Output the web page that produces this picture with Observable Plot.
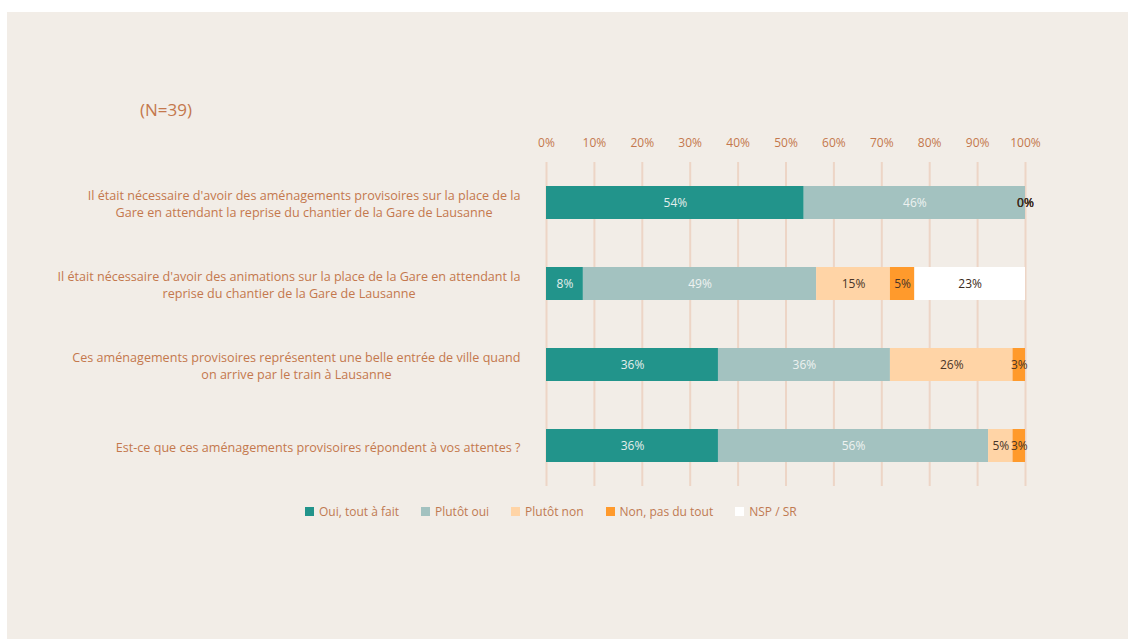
<!DOCTYPE html>
<html>
<head>
<meta charset="utf-8">
<script src="https://cdn.jsdelivr.net/npm/d3@7"></script>
<script src="https://cdn.jsdelivr.net/npm/@observablehq/plot@0.6"></script>
<style>
  html, body { margin: 0; padding: 0; background: #ffffff; }
  body { width: 1128px; height: 639px; position: relative; overflow: hidden; font-family: "Open Sans", sans-serif; }
  #panel { position: absolute; left: 7px; top: 12px; right: 0; bottom: 0; background: #F2EDE7; }
  #title { position: absolute; left: 140px; top: 98px; font-size: 17px; color: #C4784D; }
  #chart { position: absolute; left: 0; top: 0; }
  #legend { position: absolute; left: 305px; top: 503px; display: flex; align-items: center; font-size: 12px; color: #C07A52; white-space: nowrap; }
  .item { display: flex; align-items: center; margin-right: 22px; }
  .sw { width: 9px; height: 9px; margin-right: 5px; }
</style>
</head>
<body>
<div id="panel"></div>
<div id="title">(N=39)</div>
<div id="chart"></div>
<div id="legend"></div>
<script>
// ---- data ----
const questions = [
  "Il était nécessaire d'avoir des aménagements provisoires sur la place de la\nGare en attendant la reprise du chantier de la Gare de Lausanne",
  "Il était nécessaire d'avoir des animations sur la place de la Gare en attendant la\nreprise du chantier de la Gare de Lausanne",
  "Ces aménagements provisoires représentent une belle entrée de ville quand\non arrive par le train à Lausanne",
  "Est-ce que ces aménagements provisoires répondent à vos attentes ?"
];
const categories = ["Oui, tout à fait", "Plutôt oui", "Plutôt non", "Non, pas du tout", "NSP / SR"];
const ouiToutAFait = [53.8, 7.7, 35.9, 35.9];
const plutotOui    = [46.2, 48.7, 35.9, 56.4];
const plutotNon    = [0, 15.4, 25.6, 5.1];
const nonPasDuTout = [0, 5.1, 2.6, 2.6];
const nspSr        = [0, 23.1, 0, 0];
const zeroLabelShown = [true, false, false, false];
const xTicks = [0, 10, 20, 30, 40, 50, 60, 70, 80, 90, 100];

// ---- styles ----
const colors = ["#22948B", "#A3C2C0", "#FFD4A6", "#FF9A2C", "#FFFFFF"];
const labelColors = ["#E4EEEC", "#EEF2F1", "#4A3528", "#4A3528", "#3A2A20"];
const textColor = "#C4784D";
const yLabelSize = 12.6;

const series = [ouiToutAFait, plutotOui, plutotNon, nonPasDuTout, nspSr];
const rows = [];
questions.forEach((q, i) => {
  categories.forEach((c, j) => {
    rows.push({question: q, qi: i, cat: c, ci: j, value: series[j][i]});
  });
});

// measure label widths for centered multi-line labels, right-aligned block
const canvas = document.createElement("canvas");
const ctx = canvas.getContext("2d");
ctx.font = yLabelSize + "px 'Open Sans'";
const rightEdge = 520;
const marginLeft = 546;
const labelDx = questions.map(q => {
  const w = Math.max(...q.split("\n").map(l => ctx.measureText(l).width));
  return rightEdge - w / 2 - marginLeft;
});

const chart = Plot.plot({
  width: 1128,
  height: 639,
  marginLeft: marginLeft,
  marginRight: 103,
  marginTop: 162,
  marginBottom: 153,
  style: {background: "transparent", fontFamily: "'Open Sans', sans-serif"},
  x: {domain: [0, 100]},
  y: {domain: questions, paddingInner: 0.59, paddingOuter: 0.295, axis: null},
  color: {domain: categories, range: colors},
  marks: [
    Plot.ruleX(xTicks, {stroke: "#EDD5C6", strokeWidth: 2}),
    Plot.axisX(xTicks, {anchor: "top", tickSize: 0, tickPadding: 16, tickFormat: d => d + "%", fill: textColor, fontSize: 12, label: null}),
    Plot.barX(rows, {y: "question", x: "value", fill: "cat", order: categories}),
    Plot.text(rows, Plot.stackX({
      y: "question", x: "value", z: "cat", order: categories,
      filter: d => d.value > 0 || zeroLabelShown[d.qi],
      text: d => Math.round(d.value) + "%",
      fill: d => labelColors[d.ci],
      fontSize: 12
    })),
    Plot.text(questions, {
      y: d => d, x: () => 0, text: d => d,
      textAnchor: "middle",
      fill: textColor, fontSize: yLabelSize, lineHeight: 1.38,
      className: "ylabels"
    })
  ]
});
// shift each y label so its block is right-aligned with lines centered
const ylab = chart.querySelector(".ylabels");
if (ylab) {
  ylab.querySelectorAll("text").forEach((t, i) => {
    const tr = t.getAttribute("transform") || "";
    t.setAttribute("transform", tr + ` translate(${labelDx[i]},0)`);
  });
}
document.getElementById("chart").appendChild(chart);

const legend = document.getElementById("legend");
categories.forEach((c, j) => {
  const item = document.createElement("div");
  item.className = "item";
  const sw = document.createElement("div");
  sw.className = "sw";
  sw.style.background = colors[j];
  const lab = document.createElement("span");
  lab.textContent = c;
  item.appendChild(sw);
  item.appendChild(lab);
  legend.appendChild(item);
});
</script>
</body>
</html>
